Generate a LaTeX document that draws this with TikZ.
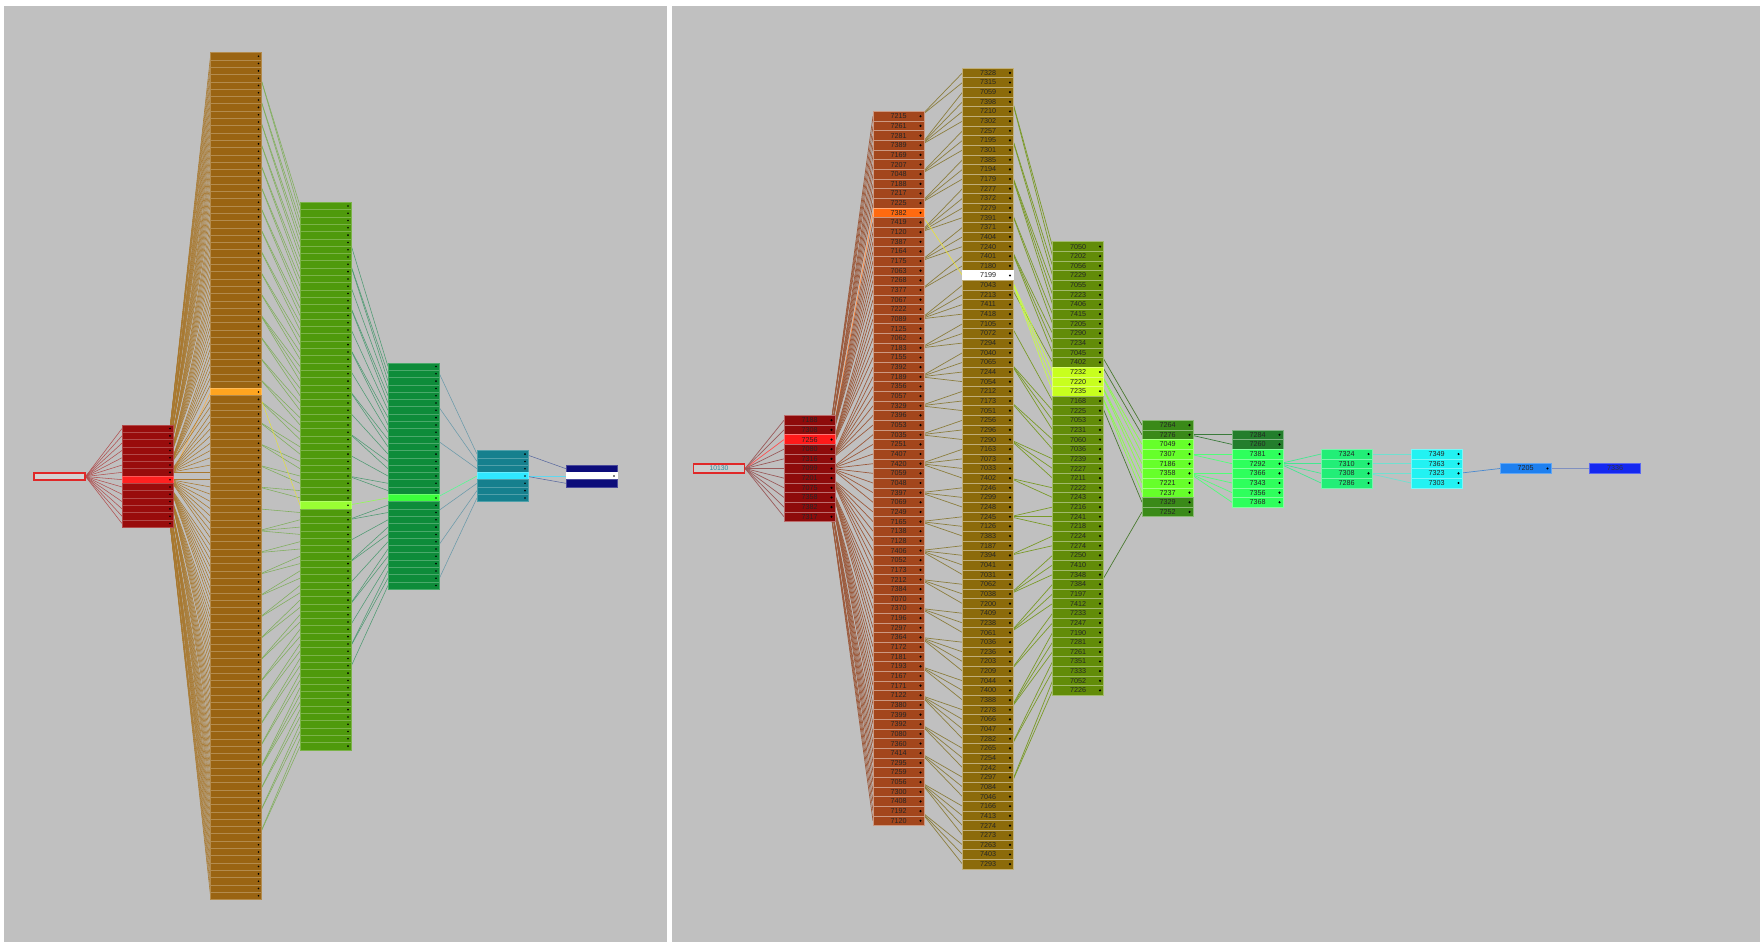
\documentclass[tikz,border=0pt]{standalone}
\usepackage{fontspec}
\setmainfont{Liberation Sans}
\pgfdeclarelayer{back}
\pgfdeclarelayer{edges}
\pgfsetlayers{back,edges,main}
% background
\definecolor{bgc}{HTML}{C0C0C0}
% right panel columns
\definecolor{rred}{HTML}{8E0A0A}
\definecolor{rredh}{HTML}{FF1A1A}
\definecolor{rbrn}{HTML}{A3461C}
\definecolor{rorg}{HTML}{FF6A10}
\definecolor{roli}{HTML}{8C6B0A}
\definecolor{rwht}{HTML}{FFFFFF}
\definecolor{rog}{HTML}{628C08}
\definecolor{rygr}{HTML}{C8FF1E}
\definecolor{rEd}{HTML}{3A8A18}
\definecolor{rEb}{HTML}{66FF2A}
\definecolor{rFd}{HTML}{237E2C}
\definecolor{rFb}{HTML}{2EFF5C}
\definecolor{rG}{HTML}{22EE77}
\definecolor{rH}{HTML}{22F2F2}
\definecolor{rI}{HTML}{1E80F0}
\definecolor{rJ}{HTML}{1428F0}
\definecolor{rootred}{HTML}{E02828}
\definecolor{roottxt}{HTML}{2A8C9C}
% right edges
\definecolor{eR0}{HTML}{9A5A5A}
\definecolor{eRh0}{HTML}{FF5050}
\definecolor{eR1}{HTML}{9C5A3C}
\definecolor{eRh1}{HTML}{FF8A40}
\definecolor{eR2}{HTML}{8C7E3E}
\definecolor{eRh2}{HTML}{E8E040}
\definecolor{eR3}{HTML}{7A9A28}
\definecolor{eRh3}{HTML}{C8FF40}
\definecolor{eR4}{HTML}{4A7A30}
\definecolor{eRh4}{HTML}{88FF44}
\definecolor{eR5}{HTML}{3A7A3A}
\definecolor{eRh5}{HTML}{50FF78}
\definecolor{eRh6}{HTML}{44E890}
\definecolor{eR7}{HTML}{70E0D0}
\definecolor{eR8}{HTML}{4A8AD0}
\definecolor{eR9}{HTML}{8090C0}
% left panel columns
\definecolor{lred}{HTML}{990C0C}
\definecolor{lredh}{HTML}{FF2020}
\definecolor{lbrn}{HTML}{9A6412}
\definecolor{lorg}{HTML}{FFA520}
\definecolor{lg1}{HTML}{4F9A0C}
\definecolor{lg1h}{HTML}{99FF33}
\definecolor{lg2}{HTML}{0E8C3A}
\definecolor{lg2h}{HTML}{3CFF3C}
\definecolor{ltl}{HTML}{16808E}
\definecolor{ltlh}{HTML}{30E8FF}
\definecolor{lnv}{HTML}{0C0C7A}
% left edges
\definecolor{eL0}{HTML}{B05050}
\definecolor{eL1}{HTML}{A8782E}
\definecolor{eLh1}{HTML}{FFB040}
\definecolor{eL2}{HTML}{7FAE5A}
\definecolor{eLh2}{HTML}{E0E040}
\definecolor{eL3}{HTML}{4E9A72}
\definecolor{eLh3}{HTML}{90FF50}
\definecolor{eL4}{HTML}{6A9AAA}
\definecolor{eLh4}{HTML}{50FF90}
\definecolor{eL5}{HTML}{5A6AA0}
\definecolor{eLh5}{HTML}{60D8F0}

\tikzset{
  rrow/.style={rectangle, minimum width=51pt, minimum height=9.65pt, inner sep=0pt, outer sep=0pt,
    line width=0.6pt, font=\fontsize{7.2}{8}\selectfont, text=black!85},
  lrow/.style={rectangle, minimum width=51pt, minimum height=7.3pt, inner sep=0pt, outer sep=0pt,
    line width=0.45pt},
  ed/.style={line width=0.7pt},
  led/.style={line width=0.55pt},
}

\begin{document}
\begin{tikzpicture}[x=1pt,y=-1pt]
\useasboundingbox (0,0) rectangle (1763,946);
\begin{pgfonlayer}{back}
  \fill[white] (0,0) rectangle (1763,946);
  \fill[bgc] (4,6) rectangle (667,942);
  \fill[bgc] (672,6) rectangle (1760,942);
\end{pgfonlayer}

% ================= RIGHT PANEL =================
\node[rectangle, minimum width=51pt, minimum height=9pt, inner sep=0pt, draw=rootred, line width=1.3pt,
  fill=bgc!80!white, text=roottxt, font=\fontsize{6.8}{7}\selectfont] (rroot) at (719,468.5) {10130};

\foreach \lab [count=\n from 0] in {7188,7308,7256,7080,7316,7099,7201,7075,7358,7382,7317}{
  \ifnum\n=2 \def\fc{rredh}\else\def\fc{rred}\fi
  \node[rrow, fill=\fc, draw=\fc!60!white] (rA\n) at (809.5,{468.5+9.65*(\n+0.5-5.5)}) {\lab};
  \fill ([xshift=-3.5pt]rA\n.east) circle (1.2pt);
}

\foreach \lab [count=\n from 0] in {7215,7261,7281,7389,7169,7207,7048,7188,7217,7225,7382,7419,7120,7387,7164,7175,7063,7268,7377,7067,7222,7089,
  7125,7062,7183,7155,7392,7189,
  7356,7057,7329,7396,7053,7035,7251,7407,7420,7059,7048,7397,7069,7249,7165,7138,
  7128,7406,7052,7173,7212,7384,7070,7370,7196,7297,7364,7172,7181,7193,7167,7171,7122,
  7380,7399,7392,7080,7360,7414,7295,7259,7056,7300,7408,7192,7120}{
  \ifnum\n=10 \def\fc{rorg}\else\def\fc{rbrn}\fi
  \node[rrow, fill=\fc, draw=\fc!55!white] (rB\n) at (898.5,{468.5+9.65*(\n+0.5-37)}) {\lab};
  \fill ([xshift=-3.5pt]rB\n.east) circle (1.2pt);
}

\foreach \lab [count=\n from 0] in {7328,7315,7059,7398,7210,7302,7257,7195,7301,7385,
  7194,7179,7277,7372,7279,7391,7371,7404,7240,7401,
  7180,7199,7043,7213,7411,7418,7105,7072,7294,7040,
  7065,7244,7054,7212,7173,7051,7256,7296,7290,7163,
  7073,7033,7402,7246,7299,7248,7245,7126,7383,7187,
  7394,7041,7031,7062,7038,7200,7409,7238,7061,7036,
  7236,7203,7209,7044,7400,7388,7278,7066,7047,7282,
  7265,7254,7242,7297,7084,7046,7166,7413,7274,7273,
  7263,7403,7293}{
  \ifnum\n=21 \def\fc{rwht}\else\def\fc{roli}\fi
  \node[rrow, fill=\fc, draw=\fc!55!white] (rC\n) at (988,{468.5+9.65*(\n+0.5-41.5)}) {\lab};
  \fill ([xshift=-3.5pt]rC\n.east) circle (1.2pt);
}

\foreach \lab [count=\n from 0] in {7050,7202,7056,7229,7055,7223,7406,7415,7205,7290,
  7234,7045,7402,7232,7220,7235,7168,7225,7053,7231,
  7060,7036,7239,7227,7211,7222,7243,7216,7241,7218,
  7224,7274,7250,7410,7348,7384,7197,7412,7233,7247,
  7190,7281,7261,7351,7333,7052,7226}{
  \def\fc{rog}
  \ifnum\n>12 \ifnum\n<16 \def\fc{rygr}\fi\fi
  \node[rrow, fill=\fc, draw=\fc!60!white] (rD\n) at (1078,{468.5+9.65*(\n+0.5-23.5)}) {\lab};
  \fill ([xshift=-3.5pt]rD\n.east) circle (1.2pt);
}

\foreach \lab [count=\n from 0] in {7264,7276,7049,7307,7186,7358,7221,7237,7329,7252}{
  \def\fc{rEb}
  \ifnum\n<2 \def\fc{rEd}\fi
  \ifnum\n>7 \def\fc{rEd}\fi
  \node[rrow, fill=\fc, draw=\fc!60!white] (rE\n) at (1167.5,{468.5+9.65*(\n+0.5-5)}) {\lab};
  \fill ([xshift=-3.5pt]rE\n.east) circle (1.2pt);
}

\foreach \lab [count=\n from 0] in {7284,7260,7381,7292,7366,7343,7356,7368}{
  \def\fc{rFb}
  \ifnum\n<2 \def\fc{rFd}\fi
  \node[rrow, fill=\fc, draw=\fc!60!white] (rF\n) at (1257.5,{468.5+9.65*(\n+0.5-4)}) {\lab};
  \fill ([xshift=-3.5pt]rF\n.east) circle (1.2pt);
}

\foreach \lab [count=\n from 0] in {7324,7310,7308,7286}{
  \node[rrow, fill=rG, draw=rG!60!white] (rG\n) at (1346.5,{468.5+9.65*(\n+0.5-2)}) {\lab};
  \fill ([xshift=-3.5pt]rG\n.east) circle (1.2pt);
}

\foreach \lab [count=\n from 0] in {7349,7363,7323,7303}{
  \node[rrow, fill=rH, draw=rH!60!white] (rH\n) at (1436.5,{468.5+9.65*(\n+0.5-2)}) {\lab};
  \fill ([xshift=-3.5pt]rH\n.east) circle (1.2pt);
}

\node[rrow, fill=rI, draw=rI!70!white] (rI) at (1525.5,468.5) {7205};
\fill ([xshift=-3.5pt]rI.east) circle (1.2pt);
\node[rrow, fill=rJ, draw=rJ!70!white, text=black!80] (rJ) at (1615,468.5) {7336};

\begin{pgfonlayer}{edges}
  \foreach \i in {0,...,10}{
    \ifnum\i=2 \def\ec{eRh0}\else\def\ec{eR0}\fi
    \draw[ed, draw=\ec] (rroot.east) -- (rA\i.west);
  }
  \foreach \j in {0,...,73}{
    \pgfmathtruncatemacro\s{round(\j*10/73)}
    \ifnum\j=10 \def\s{2}\def\ec{eRh1}\else\def\ec{eR1}\fi
    \draw[ed, draw=\ec] ([xshift=-3.5pt]rA\s.east) -- (rB\j.west);
  }
  \foreach \k in {0,...,82}{
    \pgfmathtruncatemacro\s{3*floor(\k*0.89/3+0.5)}
    \ifnum\k=21 \def\s{10}\def\ec{eRh2}\else\def\ec{eR2}\fi
    \draw[ed, draw=\ec] ([xshift=-3.5pt]rB\s.east) -- (rC\k.west);
  }
  \foreach \m in {0,...,46}{
    \pgfmathtruncatemacro\s{2+4*floor(\m*72/46/4+0.5)}
    \def\ec{eR3}
    \ifnum\m>12 \ifnum\m<16 \def\s{21}\def\ec{eRh3}\fi\fi
    \draw[ed, draw=\ec] ([xshift=-3.5pt]rC\s.east) -- (rD\m.west);
  }
  \foreach \s/\t/\ec in {11/0/eR4,12/1/eR4,13/2/eRh4,13/3/eRh4,14/4/eRh4,14/5/eRh4,15/6/eRh4,15/7/eRh4,16/8/eR4,35/9/eR4}
    \draw[ed, draw=\ec] ([xshift=-3.5pt]rD\s.east) -- (rE\t.west);
  \foreach \s/\t/\ec in {1/0/eR5,1/1/eR5,3/2/eRh5,3/3/eRh5,5/4/eRh5,5/5/eRh5,5/6/eRh5,5/7/eRh5}
    \draw[ed, draw=\ec] ([xshift=-3.5pt]rE\s.east) -- (rF\t.west);
  \foreach \t in {0,...,3}
    \draw[ed, draw=eRh6] ([xshift=-3.5pt]rF3.east) -- (rG\t.west);
  \foreach \s/\t in {0/0,1/1,2/2,2/3}
    \draw[ed, draw=eR7] ([xshift=-3.5pt]rG\s.east) -- (rH\t.west);
  \draw[ed, draw=eR8] ([xshift=-3.5pt]rH2.east) -- (rI.west);
  \draw[ed, line width=1pt, draw=eR9] ([xshift=-3.5pt]rI.east) -- (rJ.west);
\end{pgfonlayer}

% ================= LEFT PANEL =================
\node[rectangle, minimum width=51pt, minimum height=7pt, inner sep=0pt, draw=rootred, line width=1.1pt,
  fill=bgc!70!white] (lroot) at (59.5,476.5) {};

\foreach \n in {0,...,13}{
  \ifnum\n=7 \def\fc{lredh}\else\def\fc{lred}\fi
  \node[lrow, fill=\fc, draw=\fc!75!white] (lA\n) at (147.5,{476+7.3*(\n+0.5-7)}) {};
  \fill ([xshift=-3pt]lA\n.east) circle (0.9pt);
}
\foreach \n in {0,...,115}{
  \ifnum\n=46 \def\fc{lorg}\else\def\fc{lbrn}\fi
  \node[lrow, fill=\fc, draw=\fc!75!white] (lB\n) at (236,{476+7.3*(\n+0.5-58)}) {};
  \fill ([xshift=-3pt]lB\n.east) circle (0.9pt);
}
\foreach \n in {0,...,74}{
  \ifnum\n=41 \def\fc{lg1h}\else\def\fc{lg1}\fi
  \node[lrow, fill=\fc, draw=\fc!75!white] (lC\n) at (325.5,{476+7.3*(\n+0.5-37.5)}) {};
  \fill ([xshift=-3pt]lC\n.east) circle (0.9pt);
}
\foreach \n in {0,...,30}{
  \ifnum\n=18 \def\fc{lg2h}\else\def\fc{lg2}\fi
  \node[lrow, fill=\fc, draw=\fc!75!white] (lD\n) at (413.5,{476+7.3*(\n+0.5-15.5)}) {};
  \fill ([xshift=-3pt]lD\n.east) circle (0.9pt);
}
\foreach \n in {0,...,6}{
  \ifnum\n=3 \def\fc{ltlh}\else\def\fc{ltl}\fi
  \node[lrow, fill=\fc, draw=\fc!75!white] (lE\n) at (502.5,{476+7.3*(\n+0.5-3.5)}) {};
  \fill ([xshift=-3pt]lE\n.east) circle (0.9pt);
}
\foreach \n in {0,...,2}{
  \ifnum\n=1 \def\fc{white}\else\def\fc{lnv}\fi
  \node[lrow, fill=\fc, draw=\fc!75!white] (lF\n) at (591.5,{476+7.3*(\n+0.5-1.5)}) {};
}
\fill ([xshift=-3pt]lF1.east) circle (0.9pt);

\begin{pgfonlayer}{edges}
  \foreach \i in {0,...,13}
    \draw[led, draw=eL0] (lroot.east) -- (lA\i.west);
  \foreach \j in {0,...,115}{
    \pgfmathtruncatemacro\s{round(\j*13/115)}
    \ifnum\j=46 \def\s{7}\def\ec{eLh1}\else\def\ec{eL1}\fi
    \draw[led, draw=\ec] ([xshift=-3pt]lA\s.east) -- (lB\j.west);
  }
  \foreach \k in {0,...,74}{
    \pgfmathtruncatemacro\s{2+3*floor(\k*106/74/3+0.5)}
    \ifnum\k=41 \def\s{46}\def\ec{eLh2}\else\def\ec{eL2}\fi
    \draw[led, draw=\ec] ([xshift=-3pt]lB\s.east) -- (lC\k.west);
  }
  \foreach \m in {0,...,30}{
    \pgfmathtruncatemacro\s{4+3*floor(\m*60/30/3+0.5)}
    \ifnum\m=18 \def\s{41}\def\ec{eLh3}\else\def\ec{eL3}\fi
    \draw[led, draw=\ec] ([xshift=-3pt]lC\s.east) -- (lD\m.west);
  }
  \foreach \t in {0,...,6}{
    \pgfmathtruncatemacro\s{5*\t}
    \ifnum\t=3 \def\s{18}\def\ec{eLh4}\else\def\ec{eL4}\fi
    \draw[led, draw=\ec] ([xshift=-3pt]lD\s.east) -- (lE\t.west);
  }
  \draw[led, draw=eL5] ([xshift=-3pt]lE0.east) -- (lF0.west);
  \draw[led, draw=eLh5] ([xshift=-3pt]lE3.east) -- (lF1.west);
  \draw[led, draw=eL5] ([xshift=-3pt]lE3.east) -- (lF2.west);
\end{pgfonlayer}
\end{tikzpicture}
\end{document}
